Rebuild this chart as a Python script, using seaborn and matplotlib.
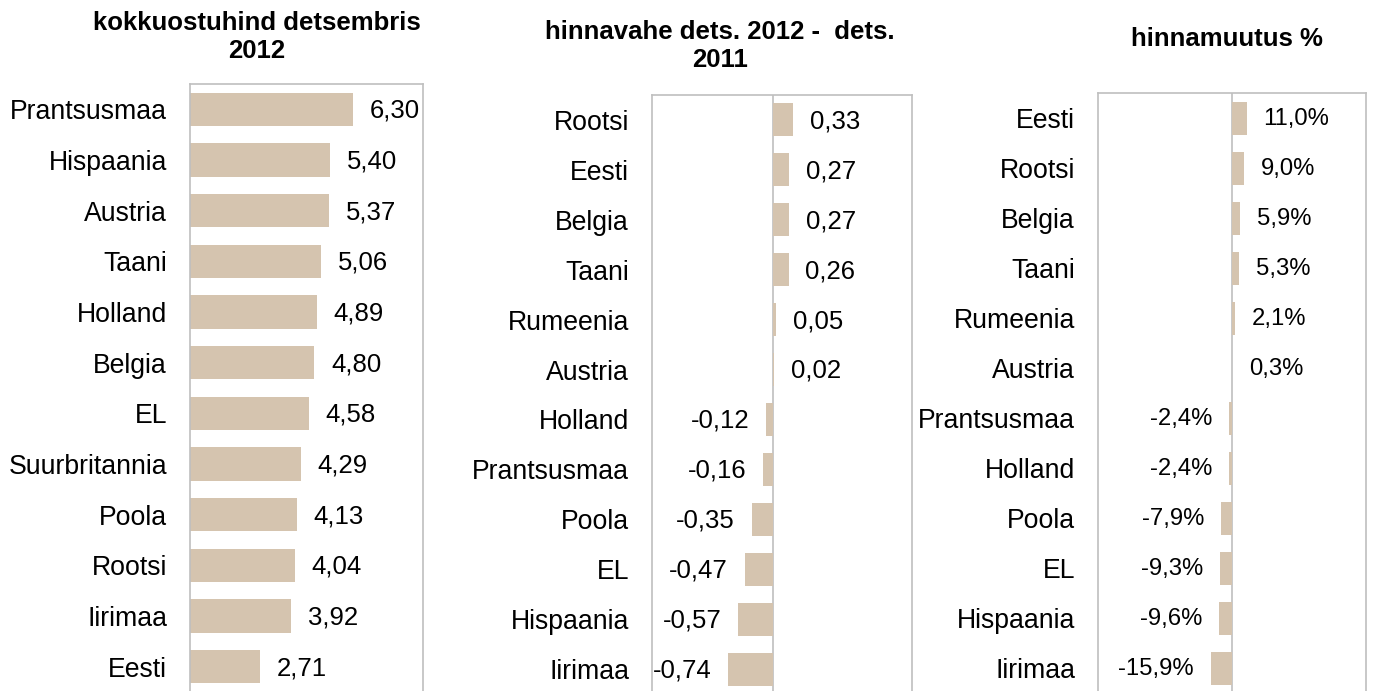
import matplotlib
matplotlib.use("Agg")
import matplotlib.pyplot as plt
import seaborn as sns
import pandas as pd

# Purchase price of raw milk, December 2012
price_countries = ["Prantsusmaa", "Hispaania", "Austria", "Taani", "Holland", "Belgia",
                   "EL", "Suurbritannia", "Poola", "Rootsi", "Iirimaa", "Eesti"]
price_values = [6.30, 5.40, 5.37, 5.06, 4.89, 4.80, 4.58, 4.29, 4.13, 4.04, 3.92, 2.71]

# Price difference Dec 2012 vs Dec 2011
diff_countries = ["Rootsi", "Eesti", "Belgia", "Taani", "Rumeenia", "Austria",
                  "Holland", "Prantsusmaa", "Poola", "EL", "Hispaania", "Iirimaa"]
diff_values = [0.33, 0.27, 0.27, 0.26, 0.05, 0.02, -0.12, -0.16, -0.35, -0.47, -0.57, -0.74]

# Price change, percent
change_countries = ["Eesti", "Rootsi", "Belgia", "Taani", "Rumeenia", "Austria",
                    "Prantsusmaa", "Holland", "Poola", "EL", "Hispaania", "Iirimaa"]
change_values = [11.0, 9.0, 5.9, 5.3, 2.1, 0.3, -2.4, -2.4, -7.9, -9.3, -9.6, -15.9]

titles = ["kokkuostuhind detsembris\n2012",
          "hinnavahe dets. 2012 -  dets.\n2011",
          "hinnamuutus %"]

sns.set_theme(style="white")
plt.rcParams["font.family"] = ["Liberation Sans", "DejaVu Sans"]
plt.rcParams["text.color"] = "black"

BAR = "#D5C4AF"
FRAME = "#BFBFBF"
W, H = 1373, 691

fig = plt.figure(figsize=(W / 100, H / 100), dpi=100)


def px_axes(left, right, top, bottom):
    return fig.add_axes([left / W, 1 - bottom / H, (right - left) / W, (bottom - top) / H])


def comma(v, fmt):
    return format(v, fmt).replace(".", ",")


panels = [
    dict(box=(190, 423, 84, 692), cats=price_countries, vals=price_values,
         xlim=(0, 9.0), fmt=".2f", suffix="", vsize=18.5),
    dict(box=(652, 912, 95, 694), cats=diff_countries, vals=diff_values,
         xlim=(-2.0, 2.3), fmt=".2f", suffix="", vsize=18.5),
    dict(box=(1098, 1366, 93, 693), cats=change_countries, vals=change_values,
         xlim=(-100, 100), fmt=".1f", suffix="%", vsize=17.2),
]

for p in panels:
    ax = px_axes(*p["box"])
    df = pd.DataFrame({"country": p["cats"], "value": p["vals"]})
    sns.barplot(data=df, x="value", y="country", orient="h", color=BAR,
                saturation=1, width=0.66, linewidth=0, ax=ax, order=p["cats"])
    ax.set_xlim(*p["xlim"])
    ax.set_ylim(len(p["cats"]) - 0.5, -0.5)
    ax.set_xlabel("")
    ax.set_ylabel("")
    ax.set_xticks([])
    ax.tick_params(axis="y", length=0, pad=16.5, labelsize=19.2, labelcolor="black")
    for s in ax.spines.values():
        s.set_color(FRAME)
        s.set_linewidth(1.2)
    if p["xlim"][0] < 0:
        ax.axvline(0, color=FRAME, lw=1.2, zorder=0.5)
    for i, v in enumerate(p["vals"]):
        label = comma(v, p["fmt"]) + p["suffix"]
        off = 12 if v >= 0 else -12
        ax.annotate(label, xy=(v, i), xytext=(off, -1), textcoords="offset points",
                    ha="left" if v >= 0 else "right", va="center",
                    fontsize=p["vsize"], color="black")

# Panel headings
fig.text(257 / W, 1 - 37 / H, titles[0], ha="center", va="center",
         fontsize=18.5, fontweight="bold", linespacing=1.25)
fig.text(720 / W, 1 - 46 / H, titles[1], ha="center", va="center",
         fontsize=18.5, fontweight="bold", linespacing=1.2)
fig.text(1227 / W, 1 - 39 / H, titles[2], ha="center", va="center",
         fontsize=18.5, fontweight="bold")

fig.savefig("out.png", dpi=100, facecolor="white")
